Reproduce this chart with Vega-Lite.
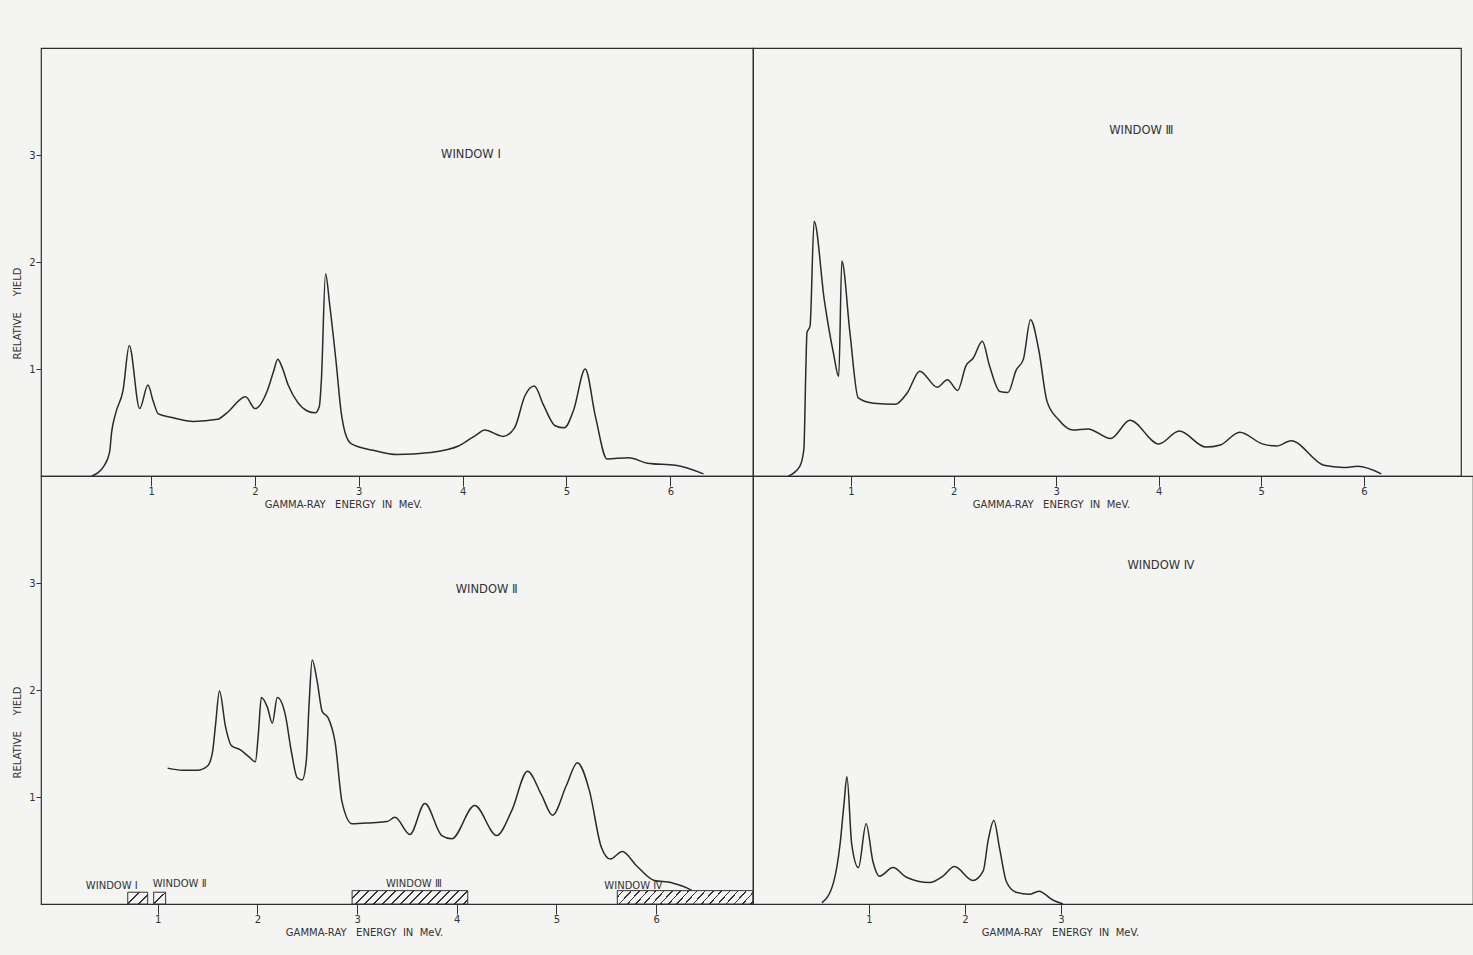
{
  "$schema": "https://vega.github.io/schema/vega-lite/v6.json",
  "background": "#f4f4f2",
  "padding": {"left": 12, "top": 47, "right": 0, "bottom": 20},
  "spacing": 0,
  "bounds": "flush",
  "columns": 2,
  "config": {
    "font": "DejaVu Sans",
    "view": {"stroke": "#2e2e2e", "strokeWidth": 1.2},
    "axis": {"domain": false, "grid": false, "labelFontSize": 10, "labelColor": "#333333", "titleColor": "#333333", "titleFontSize": 10, "titleFontWeight": "normal", "tickColor": "#333333", "tickWidth": 1, "labelFlush": false, "labelOverlap": false}
  },
  "datasets": {
    "window1": [
      {"e": 0.43, "v": 0.00}, {"e": 0.55, "v": 0.10}, {"e": 0.60, "v": 0.22}, {"e": 0.62, "v": 0.41},
      {"e": 0.66, "v": 0.59}, {"e": 0.73, "v": 0.80}, {"e": 0.79, "v": 1.22}, {"e": 0.89, "v": 0.63},
      {"e": 0.97, "v": 0.85}, {"e": 1.02, "v": 0.70}, {"e": 1.07, "v": 0.58}, {"e": 1.19, "v": 0.55},
      {"e": 1.41, "v": 0.51}, {"e": 1.64, "v": 0.53}, {"e": 1.73, "v": 0.59}, {"e": 1.91, "v": 0.74},
      {"e": 2.00, "v": 0.63}, {"e": 2.12, "v": 0.80}, {"e": 2.18, "v": 0.98}, {"e": 2.22, "v": 1.09},
      {"e": 2.26, "v": 1.02}, {"e": 2.32, "v": 0.85}, {"e": 2.41, "v": 0.69}, {"e": 2.50, "v": 0.61},
      {"e": 2.58, "v": 0.59}, {"e": 2.62, "v": 0.65}, {"e": 2.64, "v": 0.90}, {"e": 2.68, "v": 1.89},
      {"e": 2.72, "v": 1.60}, {"e": 2.78, "v": 1.08}, {"e": 2.83, "v": 0.60}, {"e": 2.87, "v": 0.40},
      {"e": 2.93, "v": 0.30}, {"e": 3.14, "v": 0.24}, {"e": 3.37, "v": 0.20}, {"e": 3.69, "v": 0.22},
      {"e": 3.96, "v": 0.28}, {"e": 4.14, "v": 0.39}, {"e": 4.21, "v": 0.43}, {"e": 4.39, "v": 0.37},
      {"e": 4.50, "v": 0.45}, {"e": 4.60, "v": 0.75}, {"e": 4.69, "v": 0.84}, {"e": 4.78, "v": 0.66},
      {"e": 4.89, "v": 0.47}, {"e": 4.98, "v": 0.45}, {"e": 5.07, "v": 0.62}, {"e": 5.18, "v": 1.00},
      {"e": 5.28, "v": 0.55}, {"e": 5.39, "v": 0.16}, {"e": 5.60, "v": 0.17}, {"e": 5.78, "v": 0.12},
      {"e": 6.05, "v": 0.10}, {"e": 6.32, "v": 0.02}
    ],
    "window2": [
      {"e": 1.10, "v": 1.27}, {"e": 1.25, "v": 1.25}, {"e": 1.40, "v": 1.25}, {"e": 1.50, "v": 1.29},
      {"e": 1.55, "v": 1.42}, {"e": 1.58, "v": 1.67}, {"e": 1.62, "v": 1.99}, {"e": 1.68, "v": 1.66},
      {"e": 1.74, "v": 1.48}, {"e": 1.83, "v": 1.44}, {"e": 1.91, "v": 1.38}, {"e": 1.98, "v": 1.33},
      {"e": 2.01, "v": 1.59}, {"e": 2.04, "v": 1.93}, {"e": 2.10, "v": 1.84}, {"e": 2.15, "v": 1.69},
      {"e": 2.20, "v": 1.93}, {"e": 2.28, "v": 1.77}, {"e": 2.34, "v": 1.43}, {"e": 2.40, "v": 1.18},
      {"e": 2.45, "v": 1.16}, {"e": 2.49, "v": 1.33}, {"e": 2.52, "v": 1.89}, {"e": 2.55, "v": 2.28},
      {"e": 2.60, "v": 2.08}, {"e": 2.65, "v": 1.80}, {"e": 2.71, "v": 1.74}, {"e": 2.78, "v": 1.51},
      {"e": 2.85, "v": 0.95}, {"e": 2.95, "v": 0.75}, {"e": 3.15, "v": 0.76}, {"e": 3.30, "v": 0.77},
      {"e": 3.38, "v": 0.81}, {"e": 3.53, "v": 0.65}, {"e": 3.68, "v": 0.94}, {"e": 3.85, "v": 0.64},
      {"e": 3.95, "v": 0.61}, {"e": 4.18, "v": 0.92}, {"e": 4.40, "v": 0.64}, {"e": 4.55, "v": 0.87},
      {"e": 4.71, "v": 1.24}, {"e": 4.85, "v": 1.02}, {"e": 4.96, "v": 0.83}, {"e": 5.10, "v": 1.11},
      {"e": 5.21, "v": 1.32}, {"e": 5.33, "v": 1.06}, {"e": 5.45, "v": 0.53}, {"e": 5.54, "v": 0.42},
      {"e": 5.66, "v": 0.49}, {"e": 5.80, "v": 0.36}, {"e": 5.98, "v": 0.22}, {"e": 6.15, "v": 0.20},
      {"e": 6.35, "v": 0.13}, {"e": 6.50, "v": 0.01}
    ],
    "window3": [
      {"e": 0.39, "v": 0.00}, {"e": 0.50, "v": 0.09}, {"e": 0.54, "v": 0.25}, {"e": 0.56, "v": 1.03},
      {"e": 0.57, "v": 1.34}, {"e": 0.60, "v": 1.40}, {"e": 0.64, "v": 2.38}, {"e": 0.74, "v": 1.64},
      {"e": 0.83, "v": 1.14}, {"e": 0.88, "v": 0.93}, {"e": 0.91, "v": 2.01}, {"e": 0.99, "v": 1.33},
      {"e": 1.07, "v": 0.73}, {"e": 1.22, "v": 0.68}, {"e": 1.43, "v": 0.67}, {"e": 1.55, "v": 0.78},
      {"e": 1.67, "v": 0.98}, {"e": 1.84, "v": 0.83}, {"e": 1.94, "v": 0.90}, {"e": 2.04, "v": 0.80},
      {"e": 2.12, "v": 1.03}, {"e": 2.19, "v": 1.10}, {"e": 2.28, "v": 1.26}, {"e": 2.35, "v": 1.03},
      {"e": 2.45, "v": 0.79}, {"e": 2.53, "v": 0.78}, {"e": 2.61, "v": 0.99}, {"e": 2.68, "v": 1.09},
      {"e": 2.75, "v": 1.46}, {"e": 2.83, "v": 1.18}, {"e": 2.91, "v": 0.70}, {"e": 3.02, "v": 0.53},
      {"e": 3.16, "v": 0.43}, {"e": 3.31, "v": 0.44}, {"e": 3.53, "v": 0.35}, {"e": 3.72, "v": 0.52},
      {"e": 4.00, "v": 0.30}, {"e": 4.20, "v": 0.42}, {"e": 4.46, "v": 0.27}, {"e": 4.60, "v": 0.29},
      {"e": 4.79, "v": 0.41}, {"e": 5.01, "v": 0.30}, {"e": 5.15, "v": 0.28}, {"e": 5.29, "v": 0.33},
      {"e": 5.61, "v": 0.10}, {"e": 5.80, "v": 0.08}, {"e": 5.94, "v": 0.09}, {"e": 6.17, "v": 0.02}
    ],
    "window4": [
      {"e": 0.51, "v": 0.01}, {"e": 0.63, "v": 0.20}, {"e": 0.70, "v": 0.57}, {"e": 0.74, "v": 0.94},
      {"e": 0.77, "v": 1.19}, {"e": 0.82, "v": 0.56}, {"e": 0.89, "v": 0.34}, {"e": 0.97, "v": 0.75},
      {"e": 1.04, "v": 0.40}, {"e": 1.11, "v": 0.26}, {"e": 1.25, "v": 0.34}, {"e": 1.39, "v": 0.25},
      {"e": 1.63, "v": 0.20}, {"e": 1.77, "v": 0.26}, {"e": 1.89, "v": 0.35}, {"e": 2.08, "v": 0.22},
      {"e": 2.19, "v": 0.31}, {"e": 2.24, "v": 0.59}, {"e": 2.30, "v": 0.78}, {"e": 2.36, "v": 0.52},
      {"e": 2.43, "v": 0.21}, {"e": 2.53, "v": 0.11}, {"e": 2.67, "v": 0.09}, {"e": 2.77, "v": 0.12},
      {"e": 2.91, "v": 0.04}, {"e": 3.02, "v": 0.00}
    ],
    "windows": [
      {"name": "WINDOW Ⅰ", "from": 0.70, "to": 0.90},
      {"name": "WINDOW Ⅱ", "from": 0.96, "to": 1.08},
      {"name": "WINDOW Ⅲ", "from": 2.95, "to": 4.11},
      {"name": "WINDOW Ⅳ", "from": 5.61, "to": 6.97}
    ]
  },
  "concat": [
    {
      "width": 712,
      "height": 428,
      "layer": [
        {
          "data": {"name": "window1"},
          "mark": {"type": "line", "interpolate": "monotone", "color": "#2a2a2a", "strokeWidth": 1.5},
          "encoding": {
            "x": {"field": "e", "type": "quantitative", "scale": {"domain": [-0.06, 6.796], "nice": false, "zero": false},
                  "axis": {"values": [1, 2, 3, 4, 5, 6], "format": "d", "tickSize": 10, "labelPadding": 0,
                           "title": "GAMMA-RAY\u00a0\u00a0 ENERGY\u00a0 IN\u00a0 MeV.", "titleX": 302, "titleY": 28, "titleAlign": "center", "titleBaseline": "middle"}},
            "y": {"field": "v", "type": "quantitative", "scale": {"domain": [0, 4], "nice": false},
                  "axis": {"values": [1, 2, 3], "format": "d", "tickSize": 5, "labelPadding": 1,
                           "title": "RELATIVE\u00a0\u00a0\u00a0\u00a0\u00a0YIELD", "titleY": 265, "titlePadding": 6}}
          }
        },
        {
          "data": {"values": [{"label": "WINDOW Ⅰ"}]},
          "mark": {"type": "text", "fontSize": 11.5, "color": "#333333"},
          "encoding": {
            "x": {"datum": 4.08, "type": "quantitative"},
            "y": {"datum": 3.0, "type": "quantitative"},
            "text": {"field": "label"}
          }
        }
      ]
    },
    {
      "width": 708,
      "height": 428,
      "layer": [
        {
          "data": {"name": "window3"},
          "mark": {"type": "line", "interpolate": "monotone", "color": "#2a2a2a", "strokeWidth": 1.5},
          "encoding": {
            "x": {"field": "e", "type": "quantitative", "scale": {"domain": [0.044, 6.947], "nice": false, "zero": false},
                  "axis": {"values": [1, 2, 3, 4, 5, 6], "format": "d", "tickSize": 10, "labelPadding": 0,
                           "title": "GAMMA-RAY\u00a0\u00a0 ENERGY\u00a0 IN\u00a0 MeV.", "titleX": 298, "titleY": 28, "titleAlign": "center", "titleBaseline": "middle"}},
            "y": {"field": "v", "type": "quantitative", "scale": {"domain": [0, 4], "nice": false}, "axis": null}
          }
        },
        {
          "data": {"values": [{"label": "WINDOW Ⅲ"}]},
          "mark": {"type": "text", "fontSize": 11.5, "color": "#333333"},
          "encoding": {
            "x": {"datum": 3.83, "type": "quantitative"},
            "y": {"datum": 3.22, "type": "quantitative"},
            "text": {"field": "label"}
          }
        }
      ]
    },
    {
      "width": 712,
      "height": 428,
      "layer": [
        {
          "data": {"name": "window2"},
          "mark": {"type": "line", "interpolate": "monotone", "color": "#2a2a2a", "strokeWidth": 1.5},
          "encoding": {
            "x": {"field": "e", "type": "quantitative", "scale": {"domain": [-0.17, 6.971], "nice": false, "zero": false},
                  "axis": {"values": [1, 2, 3, 4, 5, 6], "format": "d", "tickSize": 10, "labelPadding": 0,
                           "title": "GAMMA-RAY\u00a0\u00a0 ENERGY\u00a0 IN\u00a0 MeV.", "titleX": 323, "titleY": 28, "titleAlign": "center", "titleBaseline": "middle"}},
            "y": {"field": "v", "type": "quantitative", "scale": {"domain": [0, 4], "nice": false},
                  "axis": {"values": [1, 2, 3], "format": "d", "tickSize": 5, "labelPadding": 1,
                           "title": "RELATIVE\u00a0\u00a0\u00a0\u00a0\u00a0YIELD", "titleY": 256, "titlePadding": 6}}
          }
        },
        {
          "data": {"name": "windows"},
          "transform": [{"filter": "datum.name === 'WINDOW Ⅰ'"}],
          "mark": {"type": "rect", "stroke": "#333333", "strokeWidth": 1,
                   "fill": {"gradient": "linear", "x1": 0, "y1": 0, "x2": 1.1786, "y2": 0.699,
                            "stops": [
                              {"offset": 0, "color": "#f4f4f2"},
                              {"offset": 0.332, "color": "#f4f4f2"}, {"offset": 0.332, "color": "#333333"}, {"offset": 0.388, "color": "#333333"}, {"offset": 0.388, "color": "#f4f4f2"},
                              {"offset": 0.672, "color": "#f4f4f2"}, {"offset": 0.672, "color": "#333333"}, {"offset": 0.728, "color": "#333333"}, {"offset": 0.728, "color": "#f4f4f2"},
                              {"offset": 1, "color": "#f4f4f2"}
                            ]}},
          "encoding": {
            "x": {"field": "from", "type": "quantitative"},
            "x2": {"field": "to"},
            "y": {"datum": 0, "type": "quantitative"},
            "y2": {"datum": 0.11}
          }
        },
        {
          "data": {"name": "windows"},
          "transform": [{"filter": "datum.name === 'WINDOW Ⅱ'"}],
          "mark": {"type": "rect", "stroke": "#333333", "strokeWidth": 1,
                   "fill": {"gradient": "linear", "x1": 0, "y1": 0, "x2": 1, "y2": 1,
                            "stops": [
                              {"offset": 0, "color": "#f4f4f2"},
                              {"offset": 0.465, "color": "#f4f4f2"}, {"offset": 0.465, "color": "#333333"}, {"offset": 0.535, "color": "#333333"}, {"offset": 0.535, "color": "#f4f4f2"},
                              {"offset": 1, "color": "#f4f4f2"}
                            ]}},
          "encoding": {
            "x": {"field": "from", "type": "quantitative"},
            "x2": {"field": "to"},
            "y": {"datum": 0, "type": "quantitative"},
            "y2": {"datum": 0.11}
          }
        },
        {
          "data": {"name": "windows"},
          "transform": [{"filter": "datum.name === 'WINDOW Ⅲ'"}],
          "mark": {"type": "rect", "stroke": "#333333", "strokeWidth": 1,
                   "fill": {"gradient": "linear", "x1": 0, "y1": 0, "x2": 1.101, "y2": 0.1275,
                            "stops": [
                              {"offset": 0, "color": "#f4f4f2"},
                              {"offset": 0.054, "color": "#f4f4f2"}, {"offset": 0.054, "color": "#333333"}, {"offset": 0.066, "color": "#333333"}, {"offset": 0.066, "color": "#f4f4f2"},
                              {"offset": 0.124, "color": "#f4f4f2"}, {"offset": 0.124, "color": "#333333"}, {"offset": 0.136, "color": "#333333"}, {"offset": 0.136, "color": "#f4f4f2"},
                              {"offset": 0.194, "color": "#f4f4f2"}, {"offset": 0.194, "color": "#333333"}, {"offset": 0.206, "color": "#333333"}, {"offset": 0.206, "color": "#f4f4f2"},
                              {"offset": 0.263, "color": "#f4f4f2"}, {"offset": 0.263, "color": "#333333"}, {"offset": 0.275, "color": "#333333"}, {"offset": 0.275, "color": "#f4f4f2"},
                              {"offset": 0.333, "color": "#f4f4f2"}, {"offset": 0.333, "color": "#333333"}, {"offset": 0.345, "color": "#333333"}, {"offset": 0.345, "color": "#f4f4f2"},
                              {"offset": 0.403, "color": "#f4f4f2"}, {"offset": 0.403, "color": "#333333"}, {"offset": 0.415, "color": "#333333"}, {"offset": 0.415, "color": "#f4f4f2"},
                              {"offset": 0.473, "color": "#f4f4f2"}, {"offset": 0.473, "color": "#333333"}, {"offset": 0.485, "color": "#333333"}, {"offset": 0.485, "color": "#f4f4f2"},
                              {"offset": 0.543, "color": "#f4f4f2"}, {"offset": 0.543, "color": "#333333"}, {"offset": 0.555, "color": "#333333"}, {"offset": 0.555, "color": "#f4f4f2"},
                              {"offset": 0.612, "color": "#f4f4f2"}, {"offset": 0.612, "color": "#333333"}, {"offset": 0.624, "color": "#333333"}, {"offset": 0.624, "color": "#f4f4f2"},
                              {"offset": 0.682, "color": "#f4f4f2"}, {"offset": 0.682, "color": "#333333"}, {"offset": 0.694, "color": "#333333"}, {"offset": 0.694, "color": "#f4f4f2"},
                              {"offset": 0.752, "color": "#f4f4f2"}, {"offset": 0.752, "color": "#333333"}, {"offset": 0.764, "color": "#333333"}, {"offset": 0.764, "color": "#f4f4f2"},
                              {"offset": 0.822, "color": "#f4f4f2"}, {"offset": 0.822, "color": "#333333"}, {"offset": 0.834, "color": "#333333"}, {"offset": 0.834, "color": "#f4f4f2"},
                              {"offset": 0.892, "color": "#f4f4f2"}, {"offset": 0.892, "color": "#333333"}, {"offset": 0.904, "color": "#333333"}, {"offset": 0.904, "color": "#f4f4f2"},
                              {"offset": 0.962, "color": "#f4f4f2"}, {"offset": 0.962, "color": "#333333"}, {"offset": 0.974, "color": "#333333"}, {"offset": 0.974, "color": "#f4f4f2"},
                              {"offset": 1, "color": "#f4f4f2"}
                            ]}},
          "encoding": {
            "x": {"field": "from", "type": "quantitative"},
            "x2": {"field": "to"},
            "y": {"datum": 0, "type": "quantitative"},
            "y2": {"datum": 0.125}
          }
        },
        {
          "data": {"name": "windows"},
          "transform": [{"filter": "datum.name === 'WINDOW Ⅳ'"}],
          "mark": {"type": "rect", "stroke": "#333333", "strokeWidth": 1,
                   "fill": {"gradient": "linear", "x1": 0, "y1": 0, "x2": 1.0814, "y2": 0.0975,
                            "stops": [
                              {"offset": 0, "color": "#f4f4f2"},
                              {"offset": 0.035, "color": "#f4f4f2"}, {"offset": 0.035, "color": "#333333"}, {"offset": 0.045, "color": "#333333"}, {"offset": 0.045, "color": "#f4f4f2"},
                              {"offset": 0.091, "color": "#f4f4f2"}, {"offset": 0.091, "color": "#333333"}, {"offset": 0.101, "color": "#333333"}, {"offset": 0.101, "color": "#f4f4f2"},
                              {"offset": 0.146, "color": "#f4f4f2"}, {"offset": 0.146, "color": "#333333"}, {"offset": 0.156, "color": "#333333"}, {"offset": 0.156, "color": "#f4f4f2"},
                              {"offset": 0.202, "color": "#f4f4f2"}, {"offset": 0.202, "color": "#333333"}, {"offset": 0.212, "color": "#333333"}, {"offset": 0.212, "color": "#f4f4f2"},
                              {"offset": 0.257, "color": "#f4f4f2"}, {"offset": 0.257, "color": "#333333"}, {"offset": 0.267, "color": "#333333"}, {"offset": 0.267, "color": "#f4f4f2"},
                              {"offset": 0.313, "color": "#f4f4f2"}, {"offset": 0.313, "color": "#333333"}, {"offset": 0.323, "color": "#333333"}, {"offset": 0.323, "color": "#f4f4f2"},
                              {"offset": 0.369, "color": "#f4f4f2"}, {"offset": 0.369, "color": "#333333"}, {"offset": 0.379, "color": "#333333"}, {"offset": 0.379, "color": "#f4f4f2"},
                              {"offset": 0.424, "color": "#f4f4f2"}, {"offset": 0.424, "color": "#333333"}, {"offset": 0.434, "color": "#333333"}, {"offset": 0.434, "color": "#f4f4f2"},
                              {"offset": 0.480, "color": "#f4f4f2"}, {"offset": 0.480, "color": "#333333"}, {"offset": 0.490, "color": "#333333"}, {"offset": 0.490, "color": "#f4f4f2"},
                              {"offset": 0.535, "color": "#f4f4f2"}, {"offset": 0.535, "color": "#333333"}, {"offset": 0.545, "color": "#333333"}, {"offset": 0.545, "color": "#f4f4f2"},
                              {"offset": 0.591, "color": "#f4f4f2"}, {"offset": 0.591, "color": "#333333"}, {"offset": 0.601, "color": "#333333"}, {"offset": 0.601, "color": "#f4f4f2"},
                              {"offset": 0.647, "color": "#f4f4f2"}, {"offset": 0.647, "color": "#333333"}, {"offset": 0.657, "color": "#333333"}, {"offset": 0.657, "color": "#f4f4f2"},
                              {"offset": 0.702, "color": "#f4f4f2"}, {"offset": 0.702, "color": "#333333"}, {"offset": 0.712, "color": "#333333"}, {"offset": 0.712, "color": "#f4f4f2"},
                              {"offset": 0.758, "color": "#f4f4f2"}, {"offset": 0.758, "color": "#333333"}, {"offset": 0.768, "color": "#333333"}, {"offset": 0.768, "color": "#f4f4f2"},
                              {"offset": 0.813, "color": "#f4f4f2"}, {"offset": 0.813, "color": "#333333"}, {"offset": 0.823, "color": "#333333"}, {"offset": 0.823, "color": "#f4f4f2"},
                              {"offset": 0.869, "color": "#f4f4f2"}, {"offset": 0.869, "color": "#333333"}, {"offset": 0.879, "color": "#333333"}, {"offset": 0.879, "color": "#f4f4f2"},
                              {"offset": 0.925, "color": "#f4f4f2"}, {"offset": 0.925, "color": "#333333"}, {"offset": 0.935, "color": "#333333"}, {"offset": 0.935, "color": "#f4f4f2"},
                              {"offset": 0.980, "color": "#f4f4f2"}, {"offset": 0.980, "color": "#333333"}, {"offset": 0.990, "color": "#333333"}, {"offset": 0.990, "color": "#f4f4f2"},
                              {"offset": 1, "color": "#f4f4f2"}
                            ]}},
          "encoding": {
            "x": {"field": "from", "type": "quantitative"},
            "x2": {"field": "to"},
            "y": {"datum": 0, "type": "quantitative"},
            "y2": {"datum": 0.125}
          }
        },
        {
          "data": {"name": "windows"},
          "transform": [{"filter": "datum.name === 'WINDOW Ⅰ'"}],
          "mark": {"type": "text", "fontSize": 10, "color": "#333333", "align": "right", "baseline": "middle"},
          "encoding": {"x": {"datum": 0.80, "type": "quantitative"}, "y": {"datum": 0.17, "type": "quantitative"}, "text": {"field": "name"}}
        },
        {
          "data": {"name": "windows"},
          "transform": [{"filter": "datum.name === 'WINDOW Ⅱ'"}],
          "mark": {"type": "text", "fontSize": 10, "color": "#333333", "align": "left", "baseline": "middle"},
          "encoding": {"x": {"datum": 0.95, "type": "quantitative"}, "y": {"datum": 0.19, "type": "quantitative"}, "text": {"field": "name"}}
        },
        {
          "data": {"name": "windows"},
          "transform": [{"filter": "datum.name === 'WINDOW Ⅲ'"}],
          "mark": {"type": "text", "fontSize": 10, "color": "#333333", "align": "center", "baseline": "middle"},
          "encoding": {"x": {"datum": 3.57, "type": "quantitative"}, "y": {"datum": 0.19, "type": "quantitative"}, "text": {"field": "name"}}
        },
        {
          "data": {"name": "windows"},
          "transform": [{"filter": "datum.name === 'WINDOW Ⅳ'"}],
          "mark": {"type": "text", "fontSize": 10, "color": "#333333", "align": "left", "baseline": "middle"},
          "encoding": {"x": {"datum": 5.48, "type": "quantitative"}, "y": {"datum": 0.17, "type": "quantitative"}, "text": {"field": "name"}}
        },
        {
          "data": {"values": [{"label": "WINDOW Ⅱ"}]},
          "mark": {"type": "text", "fontSize": 11.5, "color": "#333333"},
          "encoding": {
            "x": {"datum": 4.30, "type": "quantitative"},
            "y": {"datum": 2.93, "type": "quantitative"},
            "text": {"field": "label"}
          }
        }
      ]
    },
    {
      "width": 720,
      "height": 428,
      "layer": [
        {
          "data": {"name": "window4"},
          "mark": {"type": "line", "interpolate": "monotone", "color": "#2a2a2a", "strokeWidth": 1.5},
          "encoding": {
            "x": {"field": "e", "type": "quantitative", "scale": {"domain": [-0.208, 7.29], "nice": false, "zero": false},
                  "axis": {"values": [1, 2, 3], "format": "d", "tickSize": 10, "labelPadding": 0,
                           "title": "GAMMA-RAY\u00a0\u00a0 ENERGY\u00a0 IN\u00a0 MeV.", "titleX": 307, "titleY": 28, "titleAlign": "center", "titleBaseline": "middle"}},
            "y": {"field": "v", "type": "quantitative", "scale": {"domain": [0, 4], "nice": false}, "axis": null}
          }
        },
        {
          "data": {"values": [{"label": "WINDOW Ⅳ"}]},
          "mark": {"type": "text", "fontSize": 11.5, "color": "#333333"},
          "encoding": {
            "x": {"datum": 4.04, "type": "quantitative"},
            "y": {"datum": 3.16, "type": "quantitative"},
            "text": {"field": "label"}
          }
        }
      ]
    }
  ]
}
